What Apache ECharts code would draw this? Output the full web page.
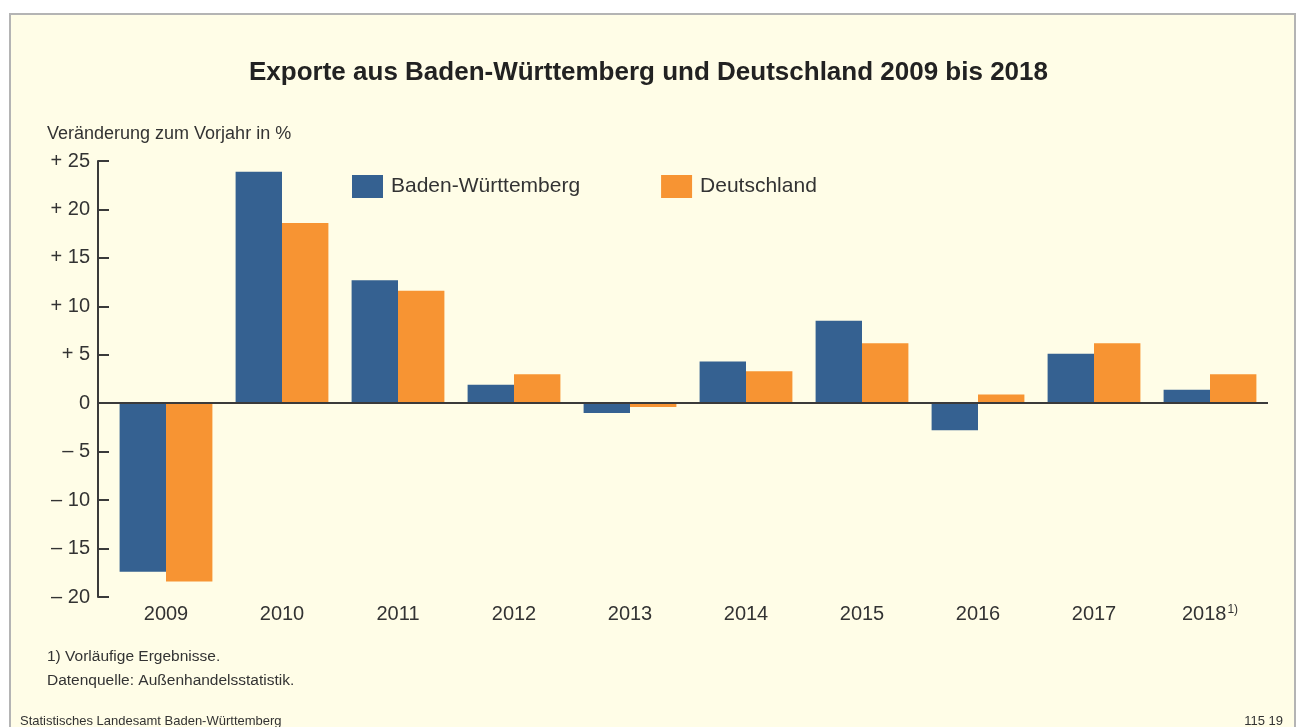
<!DOCTYPE html>
<html>
<head>
<meta charset="utf-8">
<script src="https://cdn.jsdelivr.net/npm/echarts@6/dist/echarts.min.js"></script>
<style>
  body { margin: 0; background: #fff; }
  #frame {
    position: absolute; left: 9px; top: 13px; width: 1283px; height: 730px;
    border: 2px solid #b4b4b4; background: #fffde7;
  }
  #chart { position: absolute; left: 0; top: 0; width: 1297px; height: 727px; }
</style>
</head>
<body>
<div id="frame"></div>
<div id="chart"></div>
<script>
// Jahre und Veränderung zum Vorjahr in %
const years = ['2009', '2010', '2011', '2012', '2013', '2014', '2015', '2016', '2017', '2018']
const badenWuerttemberg = [-17.4, 23.9, 12.7, 1.9, -1.0, 4.3, 8.5, -2.8, 5.1, 1.4]
const deutschland = [-18.4, 18.6, 11.6, 3.0, -0.4, 3.3, 6.2, 0.9, 6.2, 3.0]

const font = 'Liberation Sans, Arial, sans-serif'
const textColor = '#333'

const myChart = echarts.init(document.getElementById('chart'))

const option = {
  backgroundColor: 'transparent',
  animation: false,
  title: {
    text: 'Exporte aus Baden-Württemberg und Deutschland 2009 bis 2018',
    left: 'center',
    top: 55,
    textStyle: { fontFamily: font, fontSize: 26, fontWeight: 'bold', color: '#222' }
  },
  legend: {
    left: 352,
    top: 175,
    padding: 0,
    itemWidth: 31,
    itemHeight: 23,
    itemGap: 81,
    icon: 'rect',
    textStyle: { fontFamily: font, fontSize: 21, color: textColor, padding: [0, 0, 0, 3] }
  },
  grid: { left: 108, right: 29, top: 161, bottom: 130 },
  xAxis: {
    type: 'category',
    data: years,
    axisLine: { show: false },
    axisTick: { show: false },
    axisLabel: {
      interval: 0,
      margin: 7,
      fontFamily: font,
      fontSize: 20,
      color: textColor,
      formatter: function (v) {
        if (v === '2018') return '{a|2018}{sup|1)}'
        return '{a|' + v + '}'
      },
      rich: {
        a: { fontFamily: font, fontSize: 20, color: textColor },
        sup: { fontFamily: font, fontSize: 12, color: textColor, verticalAlign: 'top', padding: [0, 0, 8, 1] }
      }
    }
  },
  yAxis: {
    type: 'value',
    min: -20,
    max: 25,
    interval: 5,
    offset: 10,
    axisLine: { show: true, lineStyle: { color: '#3a3a3a', width: 2 } },
    axisTick: { show: true, inside: true, length: 11, lineStyle: { color: '#3a3a3a', width: 2 } },
    splitLine: { show: false },
    axisLabel: {
      margin: 8,
      fontFamily: font,
      fontSize: 20,
      color: textColor,
      formatter: function (v) {
        if (v > 0) return '+ ' + v
        if (v < 0) return '– ' + (-v)
        return '0'
      }
    }
  },
  series: [
    {
      name: 'Baden-Württemberg',
      type: 'bar',
      data: badenWuerttemberg,
      barGap: '0%',
      barCategoryGap: '20%',
      itemStyle: { color: '#356191' }
    },
    {
      name: 'Deutschland',
      type: 'bar',
      data: deutschland,
      itemStyle: { color: '#f79433' },
      markLine: {
        silent: true,
        symbol: 'none',
        label: { show: false },
        lineStyle: { color: '#3a3a3a', width: 2, type: 'solid' },
        data: [{ yAxis: 0 }]
      }
    }
  ],
  graphic: [
    {
      type: 'text', left: 47, top: 125,
      style: { text: 'Veränderung zum Vorjahr in %', font: '18px ' + font, fill: textColor }
    },
    {
      type: 'text', left: 47, top: 649,
      style: { text: '1) Vorläufige Ergebnisse.', font: '15.5px ' + font, fill: textColor }
    },
    {
      type: 'text', left: 47, top: 673,
      style: { text: 'Datenquelle: Außenhandelsstatistik.', font: '15.5px ' + font, fill: textColor }
    },
    {
      type: 'text', left: 20, top: 715,
      style: { text: 'Statistisches Landesamt Baden-Württemberg', font: '13px ' + font, fill: textColor }
    },
    {
      type: 'text', right: 14, top: 715,
      style: { text: '115 19', font: '13px ' + font, fill: textColor }
    }
  ]
}

myChart.setOption(option)
</script>
</body>
</html>
